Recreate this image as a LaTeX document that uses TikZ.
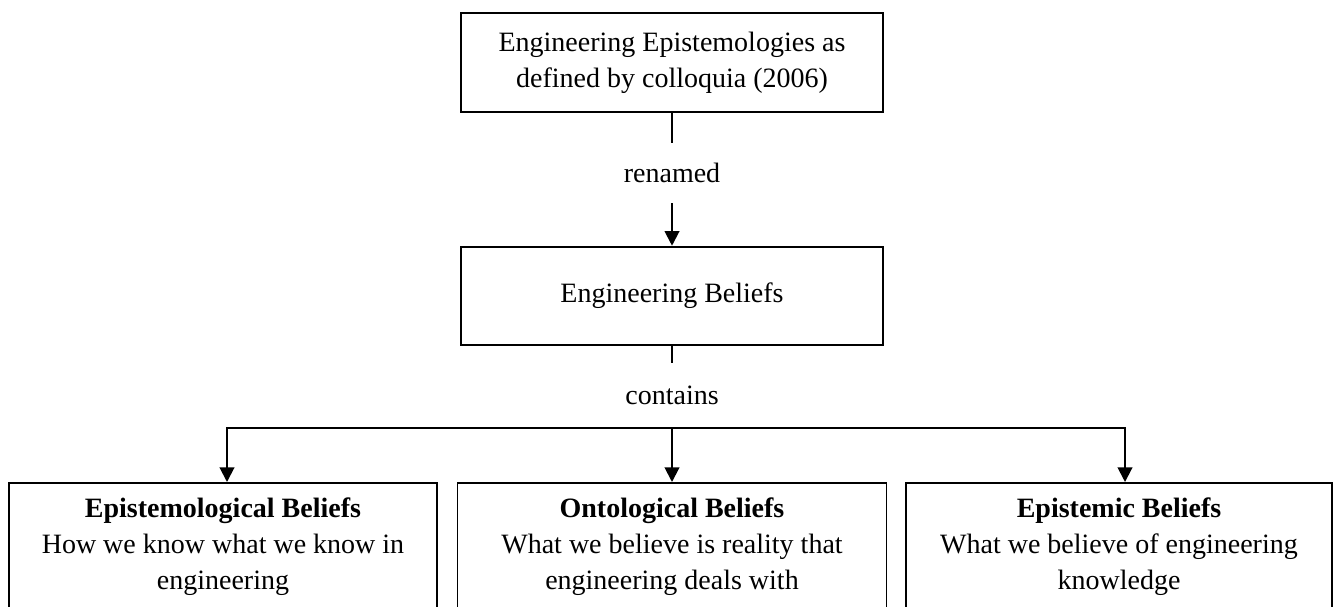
\documentclass[tikz,border=0pt]{standalone}
\usepackage{fontspec}
\setmainfont{Liberation Serif}
\usetikzlibrary{positioning, arrows.meta}

\begin{document}
\begin{tikzpicture}[x=0.75pt, y=-0.75pt, >={Triangle[width=11pt,length=11pt]},
        ebox/.style={draw, line width=1.4pt, minimum width=317pt, minimum height=74pt,
          align=center, font=\fontsize{21}{27}\selectfont},
        cbox/.style={draw, line width=1.4pt, anchor=north, minimum width=321pt, inner ysep=11.5pt,
          text depth=90pt, align=center, font=\fontsize{21}{27}\selectfont},
        lbl/.style={inner sep=0pt, font=\fontsize{21}{27}\selectfont},
        conn/.style={line width=1.5pt}]
      \useasboundingbox (0,0) rectangle (1333,606);
      \clip (0,0) rectangle (1333,606);
      \node[ebox] (epist) at (672,62.5)
        {Engineering Epistemologies as\\ defined by colloquia (2006)};
      \node[lbl, minimum height=45pt] (renamed) at (672,173) {renamed};
      \node[ebox] (beliefs) at (672,296) {Engineering Beliefs};
      \node[lbl, minimum height=48.75pt] (contains) at (672,395.5) {contains};
      \node[cbox] (epistemology) at (223,482)
        {\textbf{Epistemological Beliefs}\\ How we know what we know in\\ engineering};
      \node[cbox, minimum width=321.75pt] (ontology) at (672,482)
        {\textbf{Ontological Beliefs}\\ What we believe is reality that\\ engineering deals with};
      \node[cbox, minimum width=319.5pt] (epistemic) at (1119,482)
        {\textbf{Epistemic Beliefs}\\ What we believe of engineering\\ knowledge};
      \draw[conn] (epist) -- (renamed);
      \draw[->, conn] (renamed) -- (beliefs);
      \draw[conn] (beliefs) -- (contains);
      \draw[->, conn] (contains.south) -- (ontology.north);
      \draw[->, conn] (contains.south) -| ([xshift=3pt]epistemology.north);
      \draw[->, conn] (contains.south) -| ([xshift=4.5pt]epistemic.north);
    \end{tikzpicture}
\end{document}
